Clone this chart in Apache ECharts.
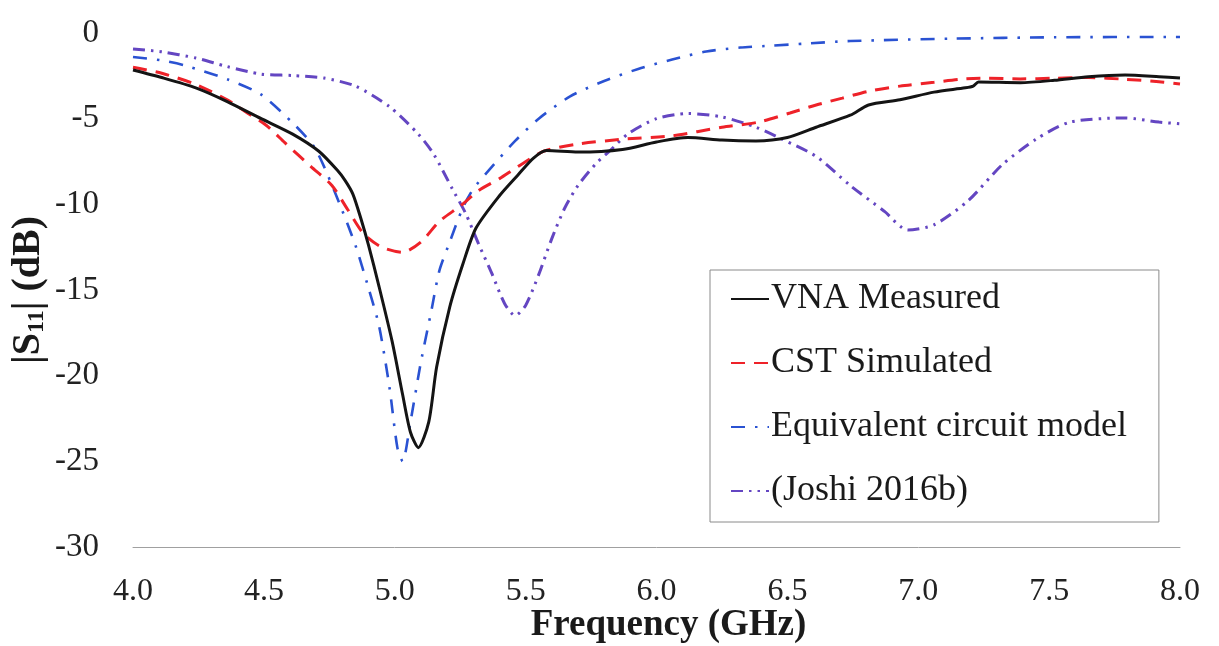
<!DOCTYPE html>
<html>
<head>
<meta charset="utf-8">
<script src="https://cdn.jsdelivr.net/npm/echarts@6/dist/echarts.min.js"></script>
<style>
html,body{margin:0;padding:0;background:#fff;}
#c{width:1219px;height:646px;}
</style>
</head>
<body>
<div id="c"></div>
<script>
// ---- data (frequency in GHz, |S11| in dB) ----
const seriesNames = ['VNA Measured', 'CST Simulated', 'Equivalent circuit model', '(Joshi 2016b)'];

const vnaFreq = [4.00,4.11,4.24,4.36,4.49,4.61,4.71,4.78,4.81,4.84,4.87,4.90,4.94,4.99,5.03,5.06,5.09,5.13,5.16,5.21,5.26,5.31,5.40,5.47,5.53,5.58,5.70,5.87,6.00,6.12,6.25,6.38,6.50,6.61,6.74,6.81,6.93,7.06,7.18,7.21,7.23,7.39,7.52,7.65,7.79,7.92,8.00];
const vnaDb   = [-2.16,-2.6,-3.2,-4.0,-5.0,-5.9,-6.9,-8.0,-8.6,-9.4,-10.8,-12.4,-14.8,-18.0,-21.1,-23.3,-24.2,-22.7,-19.5,-16.0,-13.5,-11.4,-9.5,-8.3,-7.3,-6.86,-6.95,-6.8,-6.36,-6.1,-6.25,-6.3,-6.1,-5.5,-4.8,-4.2,-3.9,-3.45,-3.2,-3.1,-2.86,-2.9,-2.76,-2.55,-2.45,-2.55,-2.63];

const cstFreq = [4.00,4.11,4.24,4.36,4.43,4.51,4.58,4.68,4.76,4.82,4.88,4.95,5.03,5.10,5.17,5.25,5.32,5.40,5.47,5.57,5.69,5.87,6.06,6.25,6.39,6.51,6.61,6.71,6.81,6.93,7.06,7.16,7.26,7.39,7.52,7.65,7.79,7.92,8.00];
const cstDb   = [-2.0,-2.35,-3.0,-3.9,-4.6,-5.4,-6.4,-7.8,-8.9,-10.3,-11.7,-12.5,-12.8,-12.2,-11.0,-10.1,-9.2,-8.5,-7.8,-6.9,-6.5,-6.2,-6.0,-5.5,-5.2,-4.67,-4.2,-3.8,-3.4,-3.1,-2.88,-2.7,-2.64,-2.68,-2.64,-2.6,-2.7,-2.84,-2.98];

const eqcFreq = [4.00,4.11,4.20,4.36,4.49,4.62,4.69,4.73,4.79,4.85,4.90,4.94,4.98,5.01,5.03,5.06,5.10,5.14,5.17,5.21,5.26,5.30,5.36,5.46,5.55,5.67,5.80,5.93,6.06,6.19,6.32,6.44,6.57,6.74,7.13,7.52,8.00];
const eqcDb   = [-1.4,-1.6,-1.9,-2.7,-3.6,-5.4,-6.6,-7.8,-10.0,-12.4,-14.9,-17.1,-20.7,-24.2,-25.0,-22.7,-19.2,-16.2,-13.9,-12.2,-10.2,-9.1,-8.0,-6.3,-5.0,-3.7,-2.8,-2.1,-1.55,-1.08,-0.85,-0.74,-0.62,-0.47,-0.33,-0.25,-0.23];

const joshiFreq = [4.00,4.11,4.24,4.36,4.49,4.61,4.73,4.85,4.98,5.09,5.15,5.22,5.27,5.32,5.37,5.42,5.46,5.50,5.55,5.60,5.65,5.70,5.77,5.82,5.89,6.00,6.12,6.25,6.38,6.48,6.61,6.74,6.87,6.96,7.06,7.19,7.32,7.45,7.58,7.79,7.92,8.00];
const joshiDb   = [-0.93,-1.1,-1.46,-1.96,-2.4,-2.48,-2.63,-3.1,-4.3,-5.9,-7.1,-9.1,-10.5,-12.3,-14.0,-15.8,-16.5,-15.9,-14.1,-12.0,-10.2,-8.9,-7.6,-6.9,-5.9,-5.0,-4.7,-4.9,-5.5,-6.2,-7.2,-8.9,-10.4,-11.5,-11.2,-9.8,-7.7,-6.2,-5.2,-4.96,-5.2,-5.3];

const xTickLabels = ['4.0','4.5','5.0','5.5','6.0','6.5','7.0','7.5','8.0'];
const yTickLabels = ['-30','-25','-20','-15','-10','-5','0'];

function zip(a, b) { return a.map((v, i) => [v, b[i]]); }

const serif = '"Liberation Serif", "DejaVu Serif", serif';

const chart = echarts.init(document.getElementById('c'), null, { renderer: 'canvas' });
chart.setOption({
  backgroundColor: '#ffffff',
  animation: false,
  grid: { left: 133, right: 39, top: 33, bottom: 99, outerBoundsMode: 'none', containLabel: false },
  legend: {
    orient: 'vertical',
    left: 710,
    top: 270,
    padding: [11, 32, 13, 20],
    itemGap: 28,
    itemWidth: 38,
    itemHeight: 14,
    backgroundColor: '#ffffff',
    borderColor: '#8a8a8a',
    borderWidth: 1,
    itemStyle: { opacity: 0 },
    textStyle: { fontFamily: serif, fontSize: 36, color: '#1a1a1a', padding: [0, 0, 0, -3] },
    data: seriesNames
  },
  xAxis: {
    type: 'value',
    min: 4, max: 8, interval: 0.5,
    axisLine: { show: true, onZero: false, lineStyle: { color: '#a0a0a0', width: 1 } },
    axisTick: { show: false },
    splitLine: { show: false },
    axisLabel: {
      margin: 29,
      fontFamily: serif, fontSize: 32, color: '#222',
      formatter: (v) => xTickLabels[Math.round((v - 4) / 0.5)]
    },
    name: 'Frequency (GHz)',
    nameLocation: 'middle',
    nameMoveOverlap: false,
    nameGap: 60,
    nameTextStyle: { fontFamily: serif, fontSize: 37, fontWeight: 'bold', color: '#1a1a1a', padding: [0, 0, 0, 24] }
  },
  yAxis: {
    type: 'value',
    min: -30, max: 0, interval: 5,
    axisLine: { show: false },
    axisTick: { show: false },
    splitLine: { show: false },
    axisLabel: {
      margin: 34,
      fontFamily: serif, fontSize: 33, color: '#222',
      formatter: (v) => yTickLabels[Math.round((v + 30) / 5)]
    },
    name: '|S{sub|11}| (dB)',
    nameLocation: 'middle',
    nameMoveOverlap: false,
    nameGap: 84,
    nameTextStyle: {
      fontFamily: serif, fontSize: 40, fontWeight: 'bold', color: '#1a1a1a',
      rich: {
        sub: { fontFamily: serif, fontSize: 24, fontWeight: 'bold', color: '#1a1a1a', verticalAlign: 'bottom', padding: [16, 0, 0, 0] }
      }
    }
  },
  series: [
    {
      name: seriesNames[0], type: 'line', symbol: 'none', smooth: 0.25, z: 5,
      lineStyle: { color: '#141414', width: 3, type: 'solid' },
      itemStyle: { color: '#141414' },
      data: zip(vnaFreq, vnaDb)
    },
    {
      name: seriesNames[1], type: 'line', symbol: 'none', smooth: 0.25, z: 4,
      lineStyle: { color: '#ee2229', width: 3, type: [14, 9] },
      itemStyle: { color: '#ee2229' },
      data: zip(cstFreq, cstDb)
    },
    {
      name: seriesNames[2], type: 'line', symbol: 'none', smooth: 0.25, z: 3,
      lineStyle: { color: '#2a52d2', width: 2.6, type: [14, 10, 2.5, 10] },
      itemStyle: { color: '#2a52d2' },
      data: zip(eqcFreq, eqcDb)
    },
    {
      name: seriesNames[3], type: 'line', symbol: 'none', smooth: 0.25, z: 2,
      lineStyle: { color: '#6446c2', width: 3, type: [12, 6, 2.5, 6, 2.5, 6] },
      itemStyle: { color: '#6446c2' },
      data: zip(joshiFreq, joshiDb)
    }
  ]
});
</script>
</body>
</html>
